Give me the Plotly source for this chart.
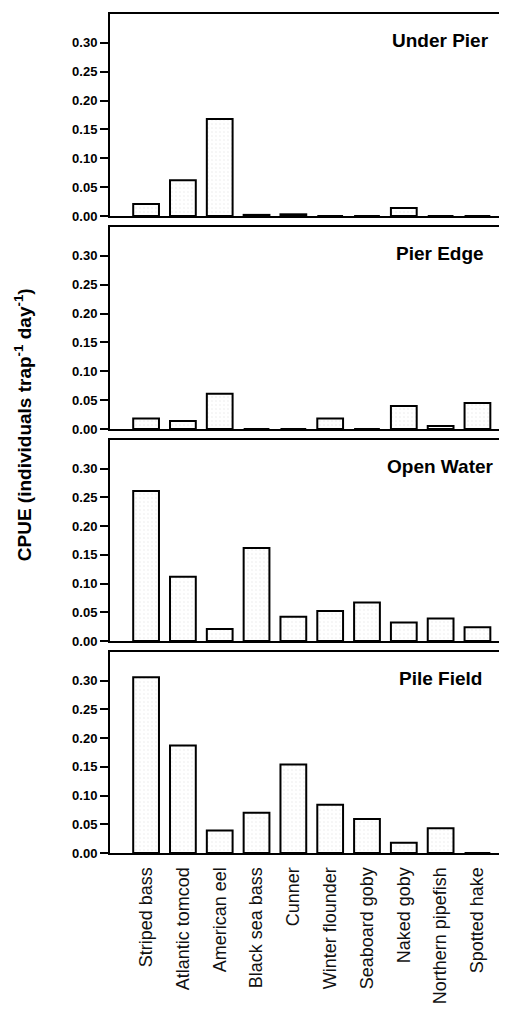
import plotly.graph_objects as go

species = ["Striped bass", "Atlantic tomcod", "American eel", "Black sea bass", "Cunner",
           "Winter flounder", "Seaboard goby", "Naked goby", "Northern pipefish", "Spotted hake"]

under_pier = [0.021, 0.062, 0.168, 0.002, 0.003, 0.0, 0.0, 0.014, 0.0, 0.0]
pier_edge = [0.018, 0.014, 0.061, 0.0, 0.0, 0.018, 0.0, 0.040, 0.005, 0.045]
open_water = [0.261, 0.112, 0.021, 0.162, 0.042, 0.052, 0.067, 0.032, 0.039, 0.024]
pile_field = [0.306, 0.187, 0.039, 0.070, 0.154, 0.084, 0.059, 0.018, 0.043, 0.0]

panel_names = ["Under Pier", "Pier Edge", "Open Water", "Pile Field"]
panel_values = [under_pier, pier_edge, open_water, pile_field]
y_ticks = [0.00, 0.05, 0.10, 0.15, 0.20, 0.25, 0.30]

FONT = "Liberation Sans, Arial, Helvetica, sans-serif"
domains = [[0.7592, 1.0], [0.5054, 0.7461], [0.2527, 0.4923], [0.0, 0.2396]]

fig = go.Figure()
layout = {}
for i, (name, vals) in enumerate(zip(panel_names, panel_values)):
    n = i + 1
    xa = "x" if n == 1 else f"x{n}"
    ya = "y" if n == 1 else f"y{n}"
    fig.add_trace(go.Bar(
        x=species, y=vals, xaxis=xa, yaxis=ya, width=0.7,
        marker=dict(color="white", line=dict(color="black", width=2),
                    pattern=dict(shape=".", fgcolor="#d4d4d4", size=4, solidity=0.12)),
        showlegend=False, hoverinfo="x+y",
    ))
    xkey = "xaxis" if n == 1 else f"xaxis{n}"
    ykey = "yaxis" if n == 1 else f"yaxis{n}"
    layout[xkey] = dict(
        domain=[0, 1], anchor=ya, type="category",
        categoryorder="array", categoryarray=species,
        range=[-0.98, 10.02], showline=True, mirror=True, linecolor="black", linewidth=2,
        ticks="", showgrid=False, zeroline=False,
        showticklabels=(n == 4), tickangle=-90, ticklabelstandoff=5,
        tickfont=dict(family=FONT, size=18, color="#111"),
    )
    if n != 1:
        layout[xkey]["matches"] = "x"
    layout[ykey] = dict(
        domain=domains[i], anchor=xa, range=[0, 0.35],
        tickvals=y_ticks, ticktext=[f"{v:.2f}" for v in y_ticks],
        ticks="outside", ticklen=8, tickwidth=2, tickcolor="black",
        showline=True, linecolor="black", linewidth=2,
        showgrid=False, zeroline=False,
        tickfont=dict(family=FONT, size=13, color="black", weight="bold"),
    )
    fig.add_annotation(
        text=f"<b>{name}</b>", xref=f"{xa} domain", yref=f"{ya} domain",
        x=0.815, y=0.87, xanchor="center", yanchor="middle", showarrow=False,
        font=dict(family=FONT, size=19, color="black"),
    )

fig.add_annotation(
    text="<b>CPUE (individuals trap<sup>-1</sup> day<sup>-1</sup>)</b>",
    xref="paper", yref="paper", x=-0.215, y=0.511, textangle=-90,
    xanchor="center", yanchor="middle", showarrow=False,
    font=dict(family=FONT, size=19, color="black"),
)

fig.update_layout(
    width=507, height=1014,
    margin=dict(l=102, r=0, t=6, b=169),
    paper_bgcolor="white", plot_bgcolor="white",
    bargap=0.3,
    **layout,
)

fig.write_html("out.html")
